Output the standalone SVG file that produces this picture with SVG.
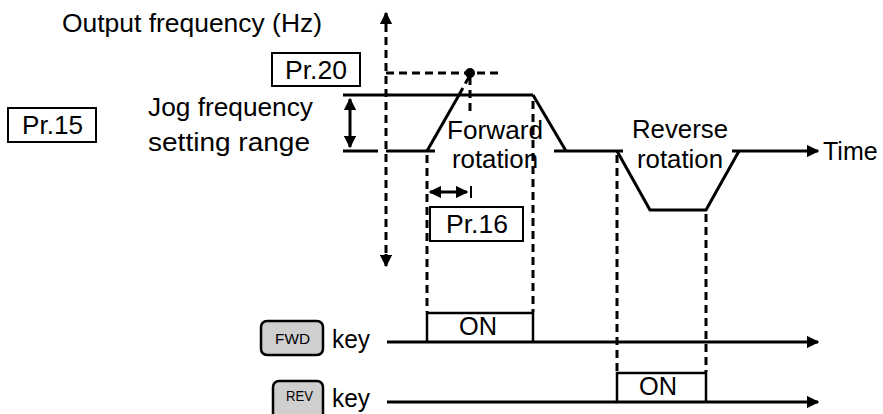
<svg xmlns="http://www.w3.org/2000/svg" width="883" height="414" viewBox="0 0 883 414">
<defs>
<style>
text{font-family:"Liberation Sans",Arial,sans-serif;fill:#000}
.t{font-size:25px}
.k{font-size:14px}
.ln{fill:none;stroke:#000;stroke-width:3}
.ds{fill:none;stroke:#000;stroke-width:3;stroke-dasharray:8 5}
.bx{fill:#fff;stroke:#000;stroke-width:2}
.btn{fill:#cfcfcf;stroke:#000;stroke-width:2.5}
</style>
<marker id="ah" viewBox="0 0 10 10" refX="9" refY="5" markerWidth="4.2" markerHeight="4.2" orient="auto-start-reverse" markerUnits="strokeWidth">
<path d="M0,0 L10,5 L0,10 z" fill="#000"/>
</marker>
</defs>
<rect width="883" height="414" fill="#fff"/>

<g id="connectors">
<path class="ds" d="M386,24 V256"/>
<path class="ln" d="M386,24 V13" marker-end="url(#ah)"/>
<path class="ln" d="M386,254 V266" marker-end="url(#ah)"/>
<path class="ds" d="M386,73 H500"/>
<path class="ds" d="M459,95 L470,75"/>
<path class="ds" d="M470,77 V116"/>
<circle cx="470" cy="73" r="5" fill="#000"/>
<path class="ln" d="M343,95 H533"/>
<path class="ln" d="M343,151 H378"/>
<path class="ln" d="M350,99 V147" marker-start="url(#ah)" marker-end="url(#ah)"/>
<path class="ln" d="M386,151 H435"/>
<path class="ln" d="M427,151 L459,95"/>
<path class="ln" d="M533,95 L566,151"/>
<path class="ln" d="M554,151 H623"/>
<path class="ln" d="M617,151 L650,210 H706 L739,151"/>
<path class="ln" d="M732,151 H818" marker-end="url(#ah)"/>
<path class="ds" d="M427,155 V312"/>
<path class="ds" d="M533,101 V312"/>
<path class="ds" d="M617,155 V372"/>
<path class="ds" d="M706,214 V372"/>
<path class="ln" d="M430,192 H467" marker-start="url(#ah)" marker-end="url(#ah)"/>
<path class="ln" d="M471,186 V198" style="stroke-width:2"/>
<path class="ln" d="M387,342 H818" marker-end="url(#ah)"/>
<path class="ln" d="M387,402 H818" marker-end="url(#ah)"/>
<path class="ln" d="M427,342 V313 H533 V342" style="stroke-width:2.5"/>
<path class="ln" d="M617,402 V373 H706 V402" style="stroke-width:2.5"/>
</g>

<g id="title"><text class="t" x="62" y="32" textLength="260" lengthAdjust="spacingAndGlyphs">Output frequency (Hz)</text></g>
<g id="time-label"><text class="t" x="823" y="160">Time</text></g>

<g id="pr15"><rect class="bx" x="8" y="108" width="88" height="34"/><text class="t" x="22" y="134" textLength="61" lengthAdjust="spacingAndGlyphs">Pr.15</text></g>
<g id="pr20"><rect class="bx" x="272" y="53" width="88" height="33"/><text class="t" x="285" y="79" textLength="62" lengthAdjust="spacingAndGlyphs">Pr.20</text></g>
<g id="pr16"><rect class="bx" x="430" y="207" width="93" height="34"/><text class="t" x="446" y="233" textLength="62" lengthAdjust="spacingAndGlyphs">Pr.16</text></g>

<g id="jog-label">
<text class="t" x="148" y="116" textLength="165" lengthAdjust="spacingAndGlyphs">Jog frequency</text>
<text class="t" x="148" y="151" textLength="162" lengthAdjust="spacingAndGlyphs">setting range</text>
</g>
<g id="forward-label">
<text class="t" x="447" y="139" textLength="96" lengthAdjust="spacingAndGlyphs">Forward</text>
<text class="t" x="452" y="168" textLength="86" lengthAdjust="spacingAndGlyphs">rotation</text>
</g>
<g id="reverse-label">
<text class="t" x="632" y="138" textLength="96" lengthAdjust="spacingAndGlyphs">Reverse</text>
<text class="t" x="637" y="168" textLength="86" lengthAdjust="spacingAndGlyphs">rotation</text>
</g>

<g id="fwd-on"><text class="t" x="459" y="335" textLength="38" lengthAdjust="spacingAndGlyphs">ON</text></g>
<g id="rev-on"><text class="t" x="639" y="395" textLength="38" lengthAdjust="spacingAndGlyphs">ON</text></g>

<g id="fwd-key">
<rect class="btn" x="261" y="321" width="62" height="34" rx="6"/>
<text class="k" x="275" y="344" textLength="35" lengthAdjust="spacingAndGlyphs">FWD</text>
<text class="t" x="332" y="348" textLength="38" lengthAdjust="spacingAndGlyphs">key</text>
</g>
<g id="rev-key">
<rect class="btn" x="273" y="381" width="50" height="40" rx="6"/>
<text class="k" x="286" y="401" textLength="27" lengthAdjust="spacingAndGlyphs">REV</text>
<text class="t" x="332" y="407" textLength="38" lengthAdjust="spacingAndGlyphs">key</text>
</g>
</svg>
